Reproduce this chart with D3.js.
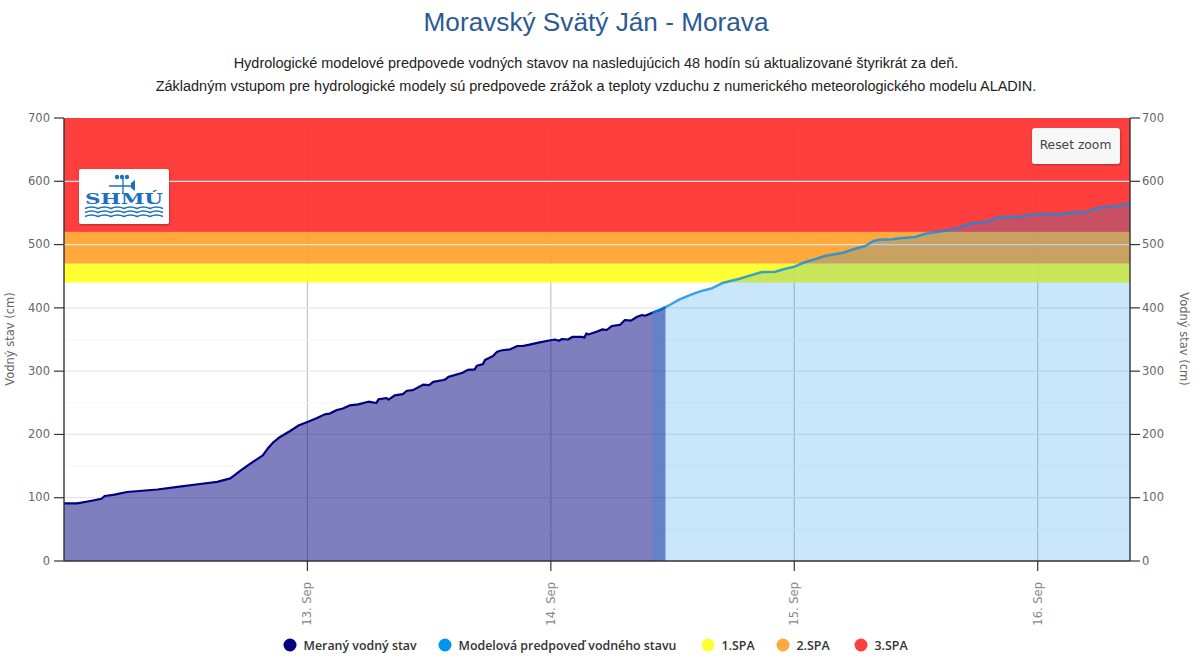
<!DOCTYPE html>
<html><head><meta charset="utf-8">
<script src="https://cdn.jsdelivr.net/npm/d3@7/dist/d3.min.js"></script>
<style>html,body{margin:0;padding:0;background:#fff}svg{display:block}</style></head>
<body><svg id="c" width="1200" height="662"></svg>
<script>
const titleText = "Moravský Svätý Ján - Morava";
const subtitleLines = ["Hydrologické modelové predpovede vodných stavov na nasledujúcich 48 hodín sú aktualizované štyrikrát za deň.",
 "Základným vstupom pre hydrologické modely sú predpovede zrážok a teploty vzduchu z numerického meteorologického modelu ALADIN."];
const measuredHours = [0,1.3,2.6,3.7,4.0,5.0,6.2,9.2,11.4,13.4,15.1,16.4,17.4,18.3,19.6,20.1,20.6,21.3,22.3,23.1,24.0,24.9,25.7,26.2,26.9,27.5,28.2,29.0,30.0,30.8,31.0,31.8,32.0,32.6,33.4,33.8,34.4,35.4,36.0,36.4,37.4,37.6,37.9,39.3,39.8,40.5,40.7,41.3,41.5,42.3,42.7,43.2,44.0,44.7,45.2,45.9,46.9,47.7,48.4,48.8,49.1,49.7,50.1,51.1,51.3,51.5,51.7,52.5,53.1,53.5,54.0,54.8,55.3,55.9,56.5,57.0,57.3,58.0,58.8,59.3];
const measuredValues = [91,91,94.8,98.4,102.7,104.8,109,113,117.4,121.7,125,130.6,142.7,153,167,178,187,196,205.4,214,219.6,225.4,231.7,233,238.6,241,246,247.5,251.7,249.6,255.4,257.5,255,261.7,263.8,269,270,278.6,278,283,286,287,291,297.5,302,302.8,308.6,311,317.6,324,330.7,333,334.5,339.7,339.7,341.8,345.5,348,350,348,350.8,350,354,354,352.8,359.7,358,362.3,366,365,371.3,373,380.8,379.7,386,388.7,387.6,392.4,397,400.8];
const forecastHours = [58.0,58.8,59.7,60.7,61.7,62.7,63.9,65.0,66.6,67.6,68.8,70.1,71.1,71.9,72.9,74.0,75.0,76.8,78.0,79.0,79.8,80.4,81.7,82.4,83.9,84.9,86.4,88.0,89.6,91.0,92.1,94.1,95.5,98.2,99.0,100.9,102.0,103.8,105.1];
const forecastValues = [392,397.7,404.5,413.5,420,426,431,439.7,446,451,456.6,457,461.8,464.5,471.3,476.7,482,487,493.4,497.7,505.6,507.7,508.3,510,512,517,520.7,525.5,534,536,543,544,548,548,550,552,558,561,565];
const bandNames = ["1.SPA","2.SPA","3.SPA"];
const bandFrom = [440,470,520];
const bandTo = [470,520,700];
const bandColors = ["#ffff24","#ffa12d","#ff2f2f"];
const yTicks = [0,100,200,300,400,500,600,700];
const yMinor = [50,150,250,350,450,550,650];
const dayTicks = [24,48,72,96];
const dayLabels = ["13. Sep","14. Sep","15. Sep","16. Sep"];
const legendNames = ["Meraný vodný stav","Modelová predpoveď vodného stavu",...bandNames];
const measuredColor = "#000080", forecastColor = "#0a8ee6";

const svg = d3.select("#c");
const L=64,R=1130,T=118,B=561;
const x = d3.scaleLinear().domain([0,105.1]).range([L,R]);
const y = d3.scaleLinear().domain([0,700]).range([B,T]);
const defs = svg.append("defs");
const f = defs.append("filter").attr("id","sh").attr("x","-20%").attr("y","-20%").attr("width","140%").attr("height","140%");
f.append("feDropShadow").attr("dx",0.5).attr("dy",1).attr("stdDeviation",1.2).attr("flood-opacity",0.3);

const sans="'Liberation Sans',Arial,sans-serif", ui="'DejaVu Sans',sans-serif";
svg.append("text").text(titleText).attr("x",596).attr("y",30.5).attr("text-anchor","middle").attr("font-family",sans).attr("font-size",26.2).attr("fill","#2b5a94");
svg.selectAll(".sub").data(subtitleLines).join("text").text(d=>d).attr("x",596).attr("y",(d,i)=>68+i*23).attr("text-anchor","middle").attr("font-family",sans).attr("font-size",14.47).attr("fill","#222");

// grid under bands
svg.selectAll(".gx").data(dayTicks).join("line").attr("x1",d=>x(d)).attr("x2",d=>x(d)).attr("y1",T).attr("y2",B).attr("stroke","#c0c0c0").attr("stroke-width",1.1);
svg.selectAll(".gm").data(yMinor.filter(d=>d<440)).join("line").attr("x1",L).attr("x2",R).attr("y1",d=>y(d)).attr("y2",d=>y(d)).attr("stroke","#f6f6f6");

// bands
svg.selectAll(".band").data(bandNames).join("rect").attr("x",L).attr("width",R-L)
 .attr("y",(d,i)=>y(bandTo[i])).attr("height",(d,i)=>y(bandFrom[i])-y(bandTo[i])).attr("fill",(d,i)=>bandColors[i]).attr("fill-opacity",0.93);
svg.selectAll(".gy").data(yTicks.slice(1,-1)).join("line").attr("x1",L).attr("x2",R).attr("y1",d=>y(d)).attr("y2",d=>y(d)).attr("stroke","#e6e6e6").attr("stroke-width",1.2);

// series
const area=(xs)=>d3.area().x((d,i)=>x(xs[i])).y0(B).y1(d=>y(d));
const line=(xs)=>d3.line().x((d,i)=>x(xs[i])).y(d=>y(d));
svg.append("path").attr("d",area(measuredHours)(measuredValues)).attr("fill",measuredColor).attr("fill-opacity",0.5);
svg.append("path").attr("d",area(forecastHours)(forecastValues)).attr("fill",forecastColor).attr("fill-opacity",0.22);
svg.append("path").attr("d",line(measuredHours)(measuredValues)).attr("fill","none").attr("stroke",measuredColor).attr("stroke-width",2.2).attr("stroke-linejoin","round");
svg.append("path").attr("d",line(forecastHours)(forecastValues)).attr("fill","none").attr("stroke",forecastColor).attr("stroke-width",2.5).attr("stroke-opacity",0.8).attr("stroke-linejoin","round");

// axes
function styleAxis(g){g.attr("font-family",ui).attr("font-size",11.5);g.selectAll(".domain").attr("stroke","#333").attr("stroke-width",1.4);g.selectAll(".tick line").attr("stroke","#333").attr("stroke-width",1.2);g.selectAll("text").attr("fill","#666");}
svg.append("g").attr("transform",`translate(${L},0)`).call(d3.axisLeft(y).offset(0).tickValues(yTicks).tickFormat(d3.format("d")).tickSize(10).tickSizeOuter(0).tickPadding(4)).call(styleAxis);
svg.append("g").attr("transform",`translate(${R},0)`).call(d3.axisRight(y).offset(0).tickValues(yTicks).tickFormat(d3.format("d")).tickSize(10).tickSizeOuter(0).tickPadding(2)).call(styleAxis);
const xg=svg.append("g").attr("transform",`translate(0,${B})`).call(d3.axisBottom(x).offset(0).tickValues(dayTicks).tickFormat((d,i)=>dayLabels[i]).tickSize(10).tickSizeOuter(0)).call(styleAxis);
xg.selectAll(".tick text").attr("transform","rotate(-90)").attr("text-anchor","end").attr("x",-21).attr("y",0).attr("dy","0.35em").attr("fill","#888");
svg.append("text").text("Vodný stav (cm)").attr("transform","translate(14,339) rotate(-90)").attr("text-anchor","middle").attr("font-family",ui).attr("font-size",11.5).attr("fill","#666");
svg.append("text").text("Vodný stav (cm)").attr("transform","translate(1180,339) rotate(90)").attr("text-anchor","middle").attr("font-family",ui).attr("font-size",11.5).attr("fill","#666");

// legend
const lgX=[290,445,708,783,861];
const lgCol=[measuredColor,"#0096ee","#ffff33","#ffa83c","#ff4040"];
const lg=svg.selectAll(".lg").data(legendNames).join("g").attr("transform",(d,i)=>`translate(${lgX[i]},645)`);
lg.append("circle").attr("r",6.5).attr("fill",(d,i)=>lgCol[i]);
lg.append("text").text(d=>d).attr("x",13.5).attr("y",4.5).attr("font-family","'Open Sans',sans-serif").attr("font-size",12.4).attr("font-weight",600).attr("fill","#333");

// logo
const lo=svg.append("g").attr("transform","translate(79,169)");
const logoBlue="#1e6fc4";
lo.append("rect").attr("width",90).attr("height",55).attr("rx",2).attr("fill","#fff").attr("filter","url(#sh)");
lo.append("text").text("SHMÚ").attr("x",45).attr("y",35).attr("text-anchor","middle").attr("font-family","'DejaVu Serif',serif").attr("font-weight",700).attr("font-size",14).attr("textLength",78).attr("lengthAdjust","spacingAndGlyphs").attr("fill",logoBlue);
[39.5,43.5,47.5].forEach(v=>{ let p="M6 "+v; for(let k=0;k<6;k++){p+=` q6.5 -3 13 0`;} lo.append("path").attr("d",p).attr("fill","none").attr("stroke",logoBlue).attr("stroke-width",1.7); });
lo.append("path").attr("d","M30 17H55M44 9V25").attr("stroke",logoBlue).attr("stroke-width",1.3).attr("fill","none");
lo.append("path").attr("d","M52 14l4 -3v11l-4 -3z").attr("fill",logoBlue);
[38,43,48].forEach(v=>lo.append("circle").attr("cx",v).attr("cy",8).attr("r",2.2).attr("fill",logoBlue));

// reset button
const b=svg.append("g").attr("transform","translate(1032,128)");
b.append("rect").attr("width",88).attr("height",36).attr("rx",3).attr("fill","#f7f7f7").attr("filter","url(#sh)");
b.append("text").text("Reset zoom").attr("x",43.5).attr("y",20.5).attr("text-anchor","middle").attr("font-family",ui).attr("font-size",12.3).attr("fill","#444");
</script></body></html>
